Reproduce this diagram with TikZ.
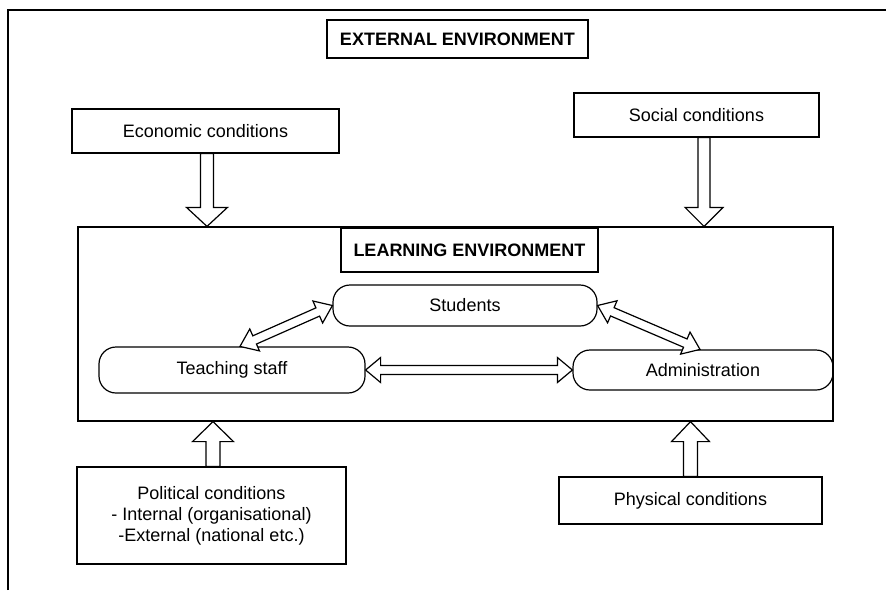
\documentclass[tikz,border=0pt]{standalone}
\usepackage{fontspec}
\setmainfont{Liberation Sans}
\usetikzlibrary{calc}
\tikzset{
  box/.style={draw, line width=1.2pt, inner sep=0pt, align=center, font=\fontsize{18}{21}\selectfont},
  rbox/.style={box, rounded corners=17pt},
  titlebox/.style={box, font=\fontsize{18}{21}\selectfont\bfseries},
  blockarrow/.style={draw, line width=1.2pt, fill=white, line join=miter},
  frame/.style={line width=1.2pt},
}
\newcommand{\singlearrow}[5]{%
  \path (#2) coordinate (tmpT) ($(#2)!#5!(#1)$) coordinate (tmpH);
  \draw[blockarrow] ($(#1)!#3!90:(tmpT)$) -- ($(tmpH)!#3!90:(tmpT)$) -- ($(tmpH)!#4!90:(tmpT)$) -- (tmpT)
    -- ($(tmpH)!#4!-90:(tmpT)$) -- ($(tmpH)!#3!-90:(tmpT)$) -- ($(#1)!#3!-90:(tmpT)$) -- cycle;
}
\newcommand{\doublearrow}[5]{%
  \path ($(#1)!#5!(#2)$) coordinate (tmpHA) ($(#2)!#5!(#1)$) coordinate (tmpHB);
  \draw[blockarrow] (#1) -- ($(tmpHA)!#4!90:(#2)$) -- ($(tmpHA)!#3!90:(#2)$) -- ($(tmpHB)!#3!-90:(#1)$)
    -- ($(tmpHB)!#4!-90:(#1)$) -- (#2) -- ($(tmpHB)!#4!90:(#1)$) -- ($(tmpHB)!#3!90:(#1)$)
    -- ($(tmpHA)!#3!-90:(#2)$) -- ($(tmpHA)!#4!-90:(#2)$) -- cycle;
}
\begin{document}
\begin{tikzpicture}[x=1pt, y=-1pt]
  \useasboundingbox (0,0) rectangle (886,590);
  % outer frame (left and top only)
  \coordinate (fbl) at (8,590);
  \coordinate (ftl) at (8,10);
  \coordinate (ftr) at (886,10);
  \draw[frame] (fbl) -- (ftl) -- (ftr);

  \node[titlebox, minimum width=261pt, minimum height=38pt] (ext) at (457.5,39) {EXTERNAL ENVIRONMENT};
  \node[box, minimum width=267pt, minimum height=44pt] (econ) at (205.5,131) {Economic conditions};
  \node[box, minimum width=245pt, minimum height=44pt] (social) at (696.5,115) {Social conditions};

  \node[draw, line width=1.2pt, minimum width=755pt, minimum height=194pt, inner sep=0pt] (learn) at (455.5,324) {};
  \node[titlebox, minimum width=257pt, minimum height=44pt] (ltitle) at (469.5,250) {LEARNING ENVIRONMENT};

  \node[rbox, minimum width=264pt, minimum height=41pt] (students) at (465,305.5) {Students};
  \node[rbox, minimum width=266pt, minimum height=46pt] (teaching) at (232,370) {Teaching staff};
  \node[rbox, minimum width=260pt, minimum height=40pt] (admin) at (703,370) {Administration};

  \node[box, minimum width=269pt, minimum height=97pt] (political) at (211.5,515.5)
    {Political conditions\\- Internal (organisational)\\-External (national etc.)};
  \node[box, minimum width=263pt, minimum height=47pt] (physical) at (690.5,500.5) {Physical conditions};

  % anchor points for the block arrows
  \coordinate (econS) at ($(econ.south)+(1.5,0)$);
  \coordinate (econT) at (econS |- learn.north);
  \coordinate (socS) at ($(social.south)+(7.5,0)$);
  \coordinate (socT) at (socS |- learn.north);
  \coordinate (polS) at ($(political.north)+(1.5,0)$);
  \coordinate (polT) at (polS |- learn.south);
  \coordinate (phyS) at (physical.north);
  \coordinate (phyT) at (phyS |- learn.south);
  \coordinate (teachN) at ($(teaching.north)+(8,0)$);
  \coordinate (studW) at (students.west);
  \coordinate (studE) at (students.east);
  \coordinate (adminN) at ($(admin.north)+(-3,0)$);
  \coordinate (teachE) at (teaching.east);
  \coordinate (adminW) at (admin.west);

  \singlearrow{econS}{econT}{6.5pt}{20.5pt}{19pt}
  \singlearrow{socS}{socT}{6pt}{19pt}{19pt}
  \singlearrow{polS}{polT}{7pt}{20.5pt}{20pt}
  \singlearrow{phyS}{phyT}{7pt}{19pt}{20pt}

  \doublearrow{teachN}{studW}{4.5pt}{12pt}{16pt}
  \doublearrow{studE}{adminN}{4.5pt}{12pt}{16pt}
  \doublearrow{teachE}{adminW}{4.5pt}{12.5pt}{15pt}
\end{tikzpicture}
\end{document}
